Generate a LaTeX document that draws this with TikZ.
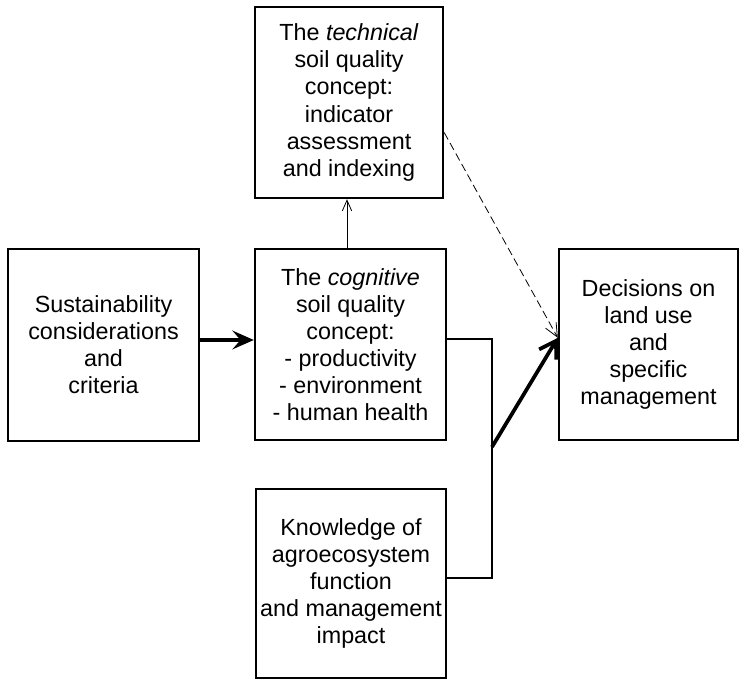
\documentclass[tikz,border=0pt]{standalone}
\usepackage{fontspec}
\setmainfont{Liberation Sans}
\usepackage{tikz}
\usetikzlibrary{arrows.meta}

\tikzset{
  box/.style={draw, line width=1.8pt, inner sep=0pt, align=center,
    font=\fontsize{17.5}{20.3}\selectfont}
}

\begin{document}
\begin{tikzpicture}[x=0.75pt, y=-0.75pt]
       \useasboundingbox (0,0) rectangle (743,680);
       \node[box, minimum width=141pt, minimum height=143.25pt] (tech) at (349,102.5)
            {The \textit{technical}\\soil quality\\concept:\\indicator\\assessment\\and indexing};
       \node[box, minimum width=143.25pt, minimum height=143.25pt] (cog) at (350.5,344.5)
            {The \textit{cognitive}\\soil quality\\concept:\\- productivity\\- environment\\- human health};
       \node[box, minimum width=143.25pt, minimum height=144pt] (sust) at (103.5,345)
            {Sustainability\\considerations\\and\\criteria};
       \node[box, minimum width=134.25pt, minimum height=143.25pt] (dec) at (648.5,344.5)
            {Decisions on\\land use\\and\\specific\\management};
       \node[box, minimum width=142.5pt, minimum height=141.75pt] (know) at (351,583.5)
            {Knowledge of\\agroecosystem\\function\\and management\\impact};
       \coordinate (junc) at (492,447);

       \draw[line width=2.4pt, -{Stealth[length=16pt, width=14pt, inset=6pt]}]
            (sust.east |- 0,340) -- (cog.west |- 0,340);
       \draw[line width=0.6pt, -{Straight Barb[length=8pt, width=7pt]}]
            (347,0 |- cog.north) -- (347,0 |- tech.south);
       \draw[line width=0.6pt, dash pattern=on 6pt off 3pt, -{Straight Barb[length=10pt, width=9pt]}]
            ([yshift=-22.5pt]tech.east) -- ([yshift=5pt]dec.west);
       \draw[line width=1.5pt]
            ([yshift=4pt]cog.east) -| (junc) |- ([yshift=4pt]know.east);
       \draw[line width=2.8pt, -{Straight Barb[length=12pt, width=15pt]}]
            (junc) -- ([yshift=5pt]dec.west);
\end{tikzpicture}
\end{document}
